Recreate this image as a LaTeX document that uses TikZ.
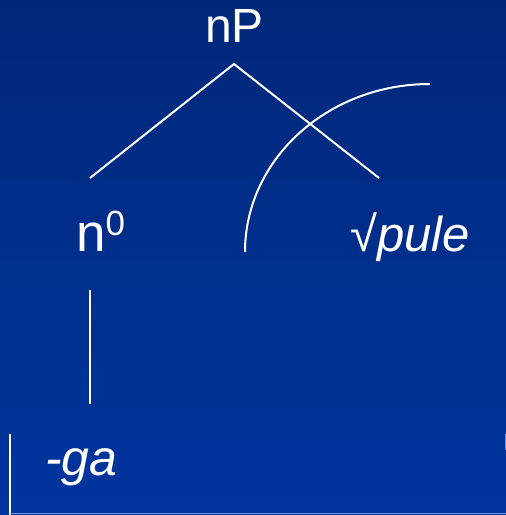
\documentclass[tikz,border=0pt]{standalone}
\usepackage{fontspec}
\setmainfont{Liberation Sans}
\usepackage{xcolor}

\definecolor{slidetop}{RGB}{0,40,122}
\definecolor{slidebot}{RGB}{0,53,158}
\definecolor{edgeblue}{RGB}{120,150,225}

\tikzset{
  lbl/.style={text=white, inner sep=0pt, anchor=base west},
  branch/.style={draw=white, line width=2pt},
}

\begin{document}
\begin{tikzpicture}[x=1pt, y=1pt]

    % background of the slide
    \shade[top color=slidetop, bottom color=slidebot] (0,0) rectangle (506,515);
    \useasboundingbox (0,0) rectangle (506,515);

    % labels
    \node[lbl, font=\fontsize{48}{56}\selectfont] (np) at (205,472) {nP};
    \node[lbl, font=\fontsize{53}{60}\selectfont] (n0) at (76,263) {n\raisebox{16pt}{\fontsize{35}{40}\selectfont 0}};
    \node[lbl, font=\fontsize{49}{56}\selectfont] (root) at (350,263) {√\textit{pule}};
    \node[lbl, font=\fontsize{50}{56}\selectfont] (ga) at (45,39) {\textit{-ga}};

    % branches
    \coordinate (apex) at (234,451);
    \coordinate (leftend) at (90,337);
    \coordinate (rightend) at (379,337);
    \draw[branch] (leftend) -- (apex) -- (rightend);
    \coordinate (stemtop) at (90,225);
    \coordinate (stembot) at (90,111);
    \draw[branch] (stemtop) -- (stembot);

    % arc over the root
    \coordinate (arcstart) at (245,263);
    \draw[branch] (arcstart) arc[start angle=180, end angle=90, x radius=185, y radius=168];

    % bracket at the bottom
    \draw[draw=white, line width=2pt] (10,81) -- (10,0);
    \draw[draw=edgeblue, line width=1pt] (505,81) -- (505,65);
    \draw[draw=edgeblue, line width=1pt] (10,1) -- (506,1);
\end{tikzpicture}
\end{document}
